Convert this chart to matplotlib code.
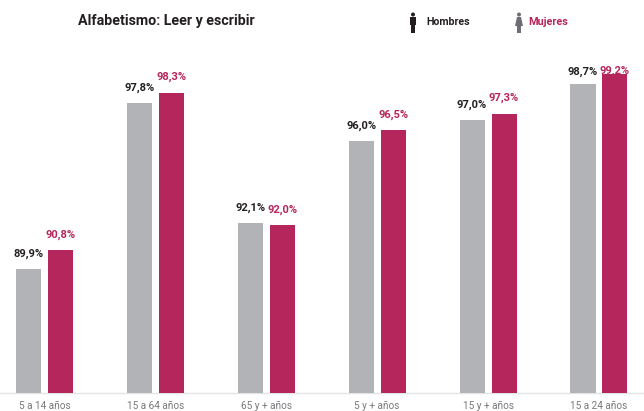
import numpy as np
import matplotlib.pyplot as plt
from matplotlib.patches import Circle, Polygon, Rectangle

categories = ['5 a 14 años', '15 a 64 años', '65 y + años', '5 y + años', '15 y + años', '15 a 24 años']
hombres = [89.9, 97.8, 92.1, 96.0, 97.0, 98.7]
mujeres = [90.8, 98.3, 92.0, 96.5, 97.3, 99.2]

GRIS = '#b1b3b6'
ROJO = '#b5265c'
NEGRO = '#231f20'
CONDENSED = ['Roboto', 'DejaVu Sans']


def label(v):
    return f'{v:.1f}%'.replace('.', ',')


fig = plt.figure(figsize=(6.44, 4.11), dpi=100)
ax = fig.add_axes([0, 18 / 411, 1, 393 / 411])
x = np.arange(len(categories))
w = 0.2256
off = 0.144

ax.bar(x - off, hombres, w, color=GRIS, zorder=3)
ax.bar(x + off, mujeres, w, color=ROJO, zorder=3)

for i in range(len(categories)):
    gap_h = 0.735
    gap_m = 0.735
    # last group: labels were squeezed against the top, the red one runs behind its bar
    if i == len(categories) - 1:
        gap_h = 0.57
        gap_m = 0.14
    ax.text(x[i] - off, hombres[i] + gap_h, label(hombres[i]), ha='center', va='center',
            family=CONDENSED, weight='bold', fontsize=8, color=NEGRO, zorder=2)
    ax.text(x[i] + off, mujeres[i] + gap_m, label(mujeres[i]), ha='center', va='center',
            family=CONDENSED, weight='bold', fontsize=8, color=ROJO, zorder=2)

ax.set_xlim(-0.4013, 5.406)
ax.set_ylim(83.995, 102.71)
ax.set_xticks(x)
ax.set_xticklabels(categories, family='Roboto', fontsize=7.2, color='#77787b')
ax.tick_params(axis='x', length=0, pad=6)
ax.set_yticks([])
for s in ['top', 'left', 'right']:
    ax.spines[s].set_visible(False)
ax.spines['bottom'].set_color('#e3e4e5')
ax.spines['bottom'].set_linewidth(1)
ax.patch.set_alpha(0)

# overlay in image pixels for the header and the little figures
ov = fig.add_axes([0, 0, 1, 1])
ov.set_xlim(0, 644)
ov.set_ylim(411, 0)
ov.axis('off')
ov.patch.set_alpha(0)

ov.text(78, 21, 'Alfabetismo: Leer y escribir', family=CONDENSED, weight='bold', fontsize=10.3,
        color=NEGRO, ha='left', va='center')
ov.text(426, 22, 'Hombres', family=CONDENSED, weight='bold', fontsize=7.6, color=NEGRO, ha='left', va='center')
ov.text(528, 22, 'Mujeres', family=CONDENSED, weight='bold', fontsize=7.8, color=ROJO, ha='left', va='center')

# man icon
ov.add_patch(Circle((413, 14.5), 2, color=NEGRO, lw=0))
ov.add_patch(Rectangle((410, 17), 6, 8.5, color=NEGRO, lw=0))
ov.add_patch(Rectangle((411, 25), 4, 8, color=NEGRO, lw=0))
# woman icon
ov.add_patch(Circle((519, 14.5), 2, color='#6d6e71', lw=0))
ov.add_patch(Polygon([(517, 17), (521, 17), (523, 26), (515, 26)], color='#6d6e71', lw=0))
ov.add_patch(Rectangle((517.1, 26), 3.8, 7, color='#6d6e71', lw=0))

fig.savefig('out.png', dpi=100)
